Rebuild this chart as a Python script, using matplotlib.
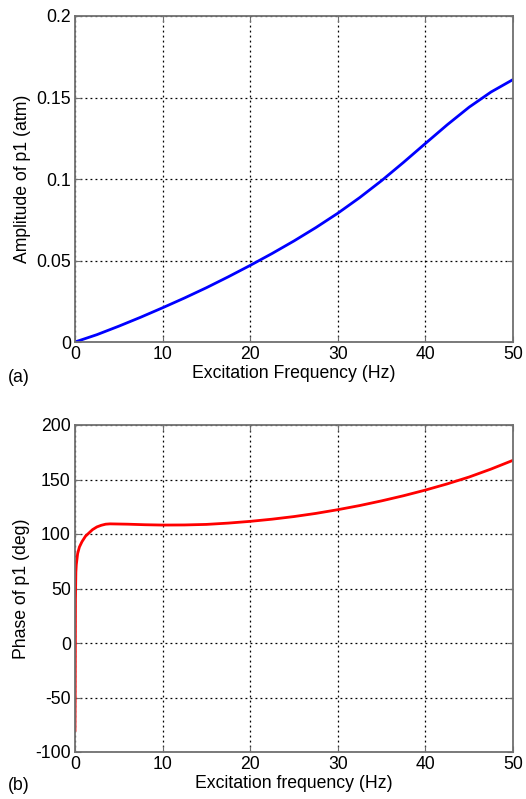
import matplotlib
matplotlib.use("Agg")
import matplotlib.pyplot as plt
from matplotlib.ticker import FuncFormatter

plt.rcParams['font.family'] = ['Liberation Sans', 'DejaVu Sans']

# Panel (a): amplitude
freq_a = [0, 2.5, 5, 7.5, 10, 12.5, 15, 17.5, 20, 22.5, 25, 27.5, 30,
          32.5, 35, 37.5, 40, 42.5, 45, 47.5, 50]
amp_a = [0, 0.0045, 0.0097, 0.0152, 0.021, 0.027, 0.0333, 0.0400, 0.047, 0.0543,
         0.062, 0.0702, 0.079, 0.0886, 0.0990, 0.1102, 0.1218, 0.1333, 0.1441,
         0.1534, 0.1610]

# Panel (b): phase
freq_b = [0, 0.02, 0.05, 0.1, 0.15, 0.3, 0.5, 0.8, 1.2, 1.6, 2.0, 2.5, 3.0, 3.5,
          4, 6, 8, 10, 12.5, 15, 17.5, 20, 22.5, 25, 27.5, 30, 32.5, 35, 37.5,
          40, 42.5, 45, 47.5, 50]
phase_b = [-80, -50, 40, 65, 72, 82, 88, 93, 98, 101, 104, 106.5, 108, 109,
           109.3, 109, 108.5, 108.2, 108.3, 108.8, 110, 111.6, 113.6, 116, 118.9,
           122.3, 126.1, 130.4, 135.1, 140.3, 146.0, 152.3, 159.6, 167.6]

xticks = [0, 10, 20, 30, 40, 50]
yticks_a = [0, 0.05, 0.1, 0.15, 0.2]
yticks_b = [-100, -50, 0, 50, 100, 150, 200]

fig = plt.figure(figsize=(5.26, 7.99), dpi=100)
W, H = 526, 799

def add_ax(l, t, r, b):
    return fig.add_axes([l / W, 1 - b / H, (r - l) / W, (b - t) / H])

ax1 = add_ax(75, 16, 513, 342)
ax2 = add_ax(75, 425, 513, 752)

fs = 12.7
fmt = FuncFormatter(lambda v, p: ('%g' % v))

for ax in (ax1, ax2):
    ax.set_xlim(0, 50)
    ax.set_xticks(xticks)
    ax.grid(True, color='black', linestyle=(0, (1.5, 2.5)), linewidth=0.9)
    ax.tick_params(direction='in', top=True, right=True, length=4,
                   labelsize=fs, color='#707070', pad=3)
    for s in ax.spines.values():
        s.set_color('#707070')
        s.set_linewidth(1.3)
    ax.yaxis.set_major_formatter(fmt)
    ax.xaxis.set_major_formatter(fmt)

ax1.plot(freq_a, amp_a, color='#0000ff', linewidth=2)
ax1.set_ylim(0, 0.2)
ax1.set_yticks(yticks_a)
ax1.set_xlabel('Excitation Frequency (Hz)', fontsize=fs, labelpad=1)
ax1.set_ylabel('Amplitude of p1 (atm)', fontsize=fs, labelpad=4)

ax2.plot(freq_b, phase_b, color='#ff0000', linewidth=2)
ax2.set_ylim(-100, 200)
ax2.set_yticks(yticks_b)
ax2.set_xlabel('Excitation frequency (Hz)', fontsize=fs, labelpad=1)
ax2.set_ylabel('Phase of p1 (deg)', fontsize=fs, labelpad=4)

fig.text(8 / W, 1 - 378 / H, '(a)', fontsize=fs, va='center', ha='left')
fig.text(8 / W, 1 - 786 / H, '(b)', fontsize=fs, va='center', ha='left')

fig.savefig('out.png', dpi=100)
